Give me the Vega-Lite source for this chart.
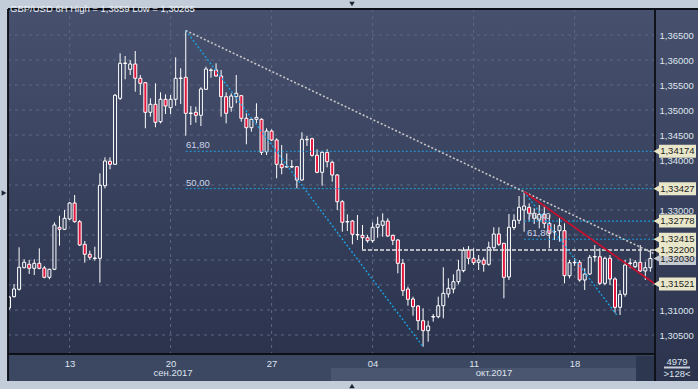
{
"$schema": "https://vega.github.io/schema/vega-lite/v6.json",
"width": 647, "height": 345,
"autosize": {"type": "none"},
"padding": {"left": 8, "top": 9, "right": 43, "bottom": 35},
"background": "#c3cdd9",
"config": {"view": {"stroke": null, "fill": null}, "font": "Liberation Sans",
  "scale": {"continuousPadding": 0},
  "axis": {"grid": false, "domain": false, "ticks": false, "labelPadding": 4, "labelFontSize": 9.5, "labelColor": "#dfe5ee", "labelFont": "Liberation Sans"}},
"title": {"text": "GBP/USD 6H  High = 1,3659 Low = 1,30265", "anchor": "start", "frame": "group", "orient": "top", "offset": -12, "dx": 2, "fontSize": 9.5, "fontWeight": "normal", "color": "#eef2f8", "font": "Liberation Sans"},
"resolve": {"scale": {"color": "independent", "strokeDash": "independent", "strokeWidth": "independent"}},
"datasets": {
"bgs": [
{"i": -0.198, "i2": 127.92, "p": 1.3012, "p2": 1.3702},
{"i": 127.92, "i2": 136.6, "p": 1.2958, "p2": 1.3702}
],
"flats": [
{"k": "axis", "i": -0.198, "i2": 127.92, "p": 1.2958, "p2": 1.3012},
{"k": "band", "i": 63.76, "i2": 124.16, "p": 1.2958, "p2": 1.2984},
{"k": "block", "i": 124.16, "i2": 127.72, "p": 1.2958, "p2": 1.3008}
],
"hg": [{"p":1.305},{"p":1.31},{"p":1.315},{"p":1.32},{"p":1.325},{"p":1.33},{"p":1.335},{"p":1.34},{"p":1.345},{"p":1.35},{"p":1.355},{"p":1.36},{"p":1.365}],
"vg": [{"i":12},{"i":32},{"i":52},{"i":72},{"i":92},{"i":112}],
"candles": [
{"i":0,"o":1.3104,"h":1.3128,"l":1.31,"c":1.3126},
{"i":1,"o":1.31266,"h":1.3152,"l":1.3125,"c":1.3142},
{"i":2,"o":1.31414,"h":1.32254,"l":1.31386,"c":1.31854},
{"i":3,"o":1.31846,"h":1.32014,"l":1.31834,"c":1.31954},
{"i":4,"o":1.31914,"h":1.32,"l":1.3172,"c":1.31834},
{"i":5,"o":1.31834,"h":1.32014,"l":1.317,"c":1.31934},
{"i":6,"o":1.31934,"h":1.32234,"l":1.31814,"c":1.31834},
{"i":7,"o":1.3184,"h":1.3188,"l":1.31634,"c":1.31654},
{"i":8,"o":1.31654,"h":1.31826,"l":1.31614,"c":1.31814},
{"i":9,"o":1.31814,"h":1.32754,"l":1.318,"c":1.327},
{"i":10,"o":1.32654,"h":1.32886,"l":1.32286,"c":1.32614},
{"i":11,"o":1.32614,"h":1.33,"l":1.326,"c":1.32834},
{"i":12,"o":1.3282,"h":1.3316,"l":1.328,"c":1.3314},
{"i":13,"o":1.3314,"h":1.333,"l":1.32746,"c":1.32766},
{"i":14,"o":1.32766,"h":1.328,"l":1.3228,"c":1.323},
{"i":15,"o":1.32314,"h":1.3238,"l":1.31946,"c":1.32114},
{"i":16,"o":1.32114,"h":1.32186,"l":1.32,"c":1.32054},
{"i":17,"o":1.3204,"h":1.32266,"l":1.31986,"c":1.3203},
{"i":18,"o":1.32034,"h":1.33734,"l":1.31546,"c":1.33494},
{"i":19,"o":1.33486,"h":1.34054,"l":1.33434,"c":1.3398},
{"i":20,"o":1.33974,"h":1.34054,"l":1.33814,"c":1.33914},
{"i":21,"o":1.33914,"h":1.3532,"l":1.339,"c":1.35294},
{"i":22,"o":1.35234,"h":1.36134,"l":1.352,"c":1.35934},
{"i":23,"o":1.3594,"h":1.3608,"l":1.35614,"c":1.3593},
{"i":24,"o":1.35814,"h":1.36,"l":1.357,"c":1.3592},
{"i":25,"o":1.3592,"h":1.3618,"l":1.35366,"c":1.35634},
{"i":26,"o":1.35634,"h":1.357,"l":1.353,"c":1.35534},
{"i":27,"o":1.35546,"h":1.3556,"l":1.34634,"c":1.34954},
{"i":28,"o":1.34954,"h":1.35234,"l":1.34866,"c":1.35114},
{"i":29,"o":1.35114,"h":1.35534,"l":1.34654,"c":1.34754},
{"i":30,"o":1.34766,"h":1.35354,"l":1.34734,"c":1.35214},
{"i":31,"o":1.35214,"h":1.35314,"l":1.3492,"c":1.3508},
{"i":32,"o":1.35046,"h":1.353,"l":1.3492,"c":1.35214},
{"i":33,"o":1.35214,"h":1.36054,"l":1.35086,"c":1.35634},
{"i":34,"o":1.3564,"h":1.35834,"l":1.3512,"c":1.3563},
{"i":35,"o":1.35654,"h":1.3659,"l":1.34486,"c":1.34934},
{"i":36,"o":1.3494,"h":1.3508,"l":1.347,"c":1.3493},
{"i":37,"o":1.34954,"h":1.35066,"l":1.34746,"c":1.34894},
{"i":38,"o":1.34894,"h":1.35454,"l":1.3468,"c":1.3542},
{"i":39,"o":1.35414,"h":1.35866,"l":1.354,"c":1.3582},
{"i":40,"o":1.358,"h":1.35834,"l":1.35646,"c":1.3579},
{"i":41,"o":1.358,"h":1.35934,"l":1.35666,"c":1.3568},
{"i":42,"o":1.3568,"h":1.358,"l":1.34866,"c":1.35266},
{"i":43,"o":1.35266,"h":1.35354,"l":1.34734,"c":1.34934},
{"i":44,"o":1.35054,"h":1.35334,"l":1.34966,"c":1.3528},
{"i":45,"o":1.35266,"h":1.357,"l":1.35134,"c":1.35334},
{"i":46,"o":1.35286,"h":1.353,"l":1.34766,"c":1.34834},
{"i":47,"o":1.34834,"h":1.34934,"l":1.34314,"c":1.34646},
{"i":48,"o":1.34646,"h":1.34834,"l":1.34566,"c":1.34814},
{"i":49,"o":1.34814,"h":1.35134,"l":1.34734,"c":1.34854},
{"i":50,"o":1.34814,"h":1.34834,"l":1.341,"c":1.34154},
{"i":51,"o":1.34166,"h":1.34634,"l":1.341,"c":1.3458},
{"i":52,"o":1.3458,"h":1.34614,"l":1.3438,"c":1.344},
{"i":53,"o":1.344,"h":1.34434,"l":1.33634,"c":1.33914},
{"i":54,"o":1.33914,"h":1.343,"l":1.33714,"c":1.33846},
{"i":55,"o":1.3387,"h":1.34134,"l":1.33846,"c":1.3386},
{"i":56,"o":1.3386,"h":1.34,"l":1.3384,"c":1.3387},
{"i":57,"o":1.33866,"h":1.3388,"l":1.33434,"c":1.336},
{"i":58,"o":1.336,"h":1.34554,"l":1.33586,"c":1.34414},
{"i":59,"o":1.34414,"h":1.34486,"l":1.3428,"c":1.34404},
{"i":60,"o":1.34426,"h":1.34446,"l":1.34066,"c":1.34094},
{"i":61,"o":1.34094,"h":1.34214,"l":1.33734,"c":1.33754},
{"i":62,"o":1.33754,"h":1.34186,"l":1.33486,"c":1.34154},
{"i":63,"o":1.34154,"h":1.34214,"l":1.33854,"c":1.33966},
{"i":64,"o":1.33954,"h":1.33986,"l":1.33566,"c":1.337},
{"i":65,"o":1.337,"h":1.3372,"l":1.33,"c":1.33166},
{"i":66,"o":1.33166,"h":1.332,"l":1.32566,"c":1.32754},
{"i":67,"o":1.3277,"h":1.32914,"l":1.3258,"c":1.3276},
{"i":68,"o":1.3278,"h":1.328,"l":1.32314,"c":1.32514},
{"i":69,"o":1.3251,"h":1.329,"l":1.324,"c":1.325},
{"i":70,"o":1.32494,"h":1.327,"l":1.3222,"c":1.32446},
{"i":71,"o":1.32446,"h":1.325,"l":1.32346,"c":1.32386},
{"i":72,"o":1.32386,"h":1.32754,"l":1.32346,"c":1.32654},
{"i":73,"o":1.32654,"h":1.32866,"l":1.32446,"c":1.32714},
{"i":74,"o":1.32694,"h":1.32934,"l":1.32466,"c":1.3278},
{"i":75,"o":1.3278,"h":1.32834,"l":1.32466,"c":1.3248},
{"i":76,"o":1.32494,"h":1.32506,"l":1.323,"c":1.32394},
{"i":77,"o":1.324,"h":1.3242,"l":1.31734,"c":1.31934},
{"i":78,"o":1.31934,"h":1.3202,"l":1.3128,"c":1.31386},
{"i":79,"o":1.3142,"h":1.31466,"l":1.31086,"c":1.31214},
{"i":80,"o":1.3122,"h":1.31266,"l":1.30886,"c":1.31066},
{"i":81,"o":1.3108,"h":1.311,"l":1.306,"c":1.30786},
{"i":82,"o":1.30786,"h":1.31034,"l":1.30265,"c":1.30586},
{"i":83,"o":1.30586,"h":1.30786,"l":1.30366,"c":1.3068},
{"i":84,"o":1.3087,"h":1.3092,"l":1.30766,"c":1.3086},
{"i":85,"o":1.30866,"h":1.31266,"l":1.30834,"c":1.31086},
{"i":86,"o":1.31086,"h":1.31854,"l":1.30834,"c":1.31334},
{"i":87,"o":1.3132,"h":1.31634,"l":1.31246,"c":1.31434},
{"i":88,"o":1.3142,"h":1.31714,"l":1.31334,"c":1.31566},
{"i":89,"o":1.31566,"h":1.32,"l":1.31514,"c":1.318},
{"i":90,"o":1.31786,"h":1.32254,"l":1.31754,"c":1.32194},
{"i":91,"o":1.322,"h":1.3228,"l":1.31914,"c":1.32034},
{"i":92,"o":1.32034,"h":1.32234,"l":1.319,"c":1.31946},
{"i":93,"o":1.31954,"h":1.321,"l":1.318,"c":1.32},
{"i":94,"o":1.32,"h":1.32054,"l":1.31766,"c":1.31914},
{"i":95,"o":1.31914,"h":1.32366,"l":1.31886,"c":1.32254},
{"i":96,"o":1.32246,"h":1.32654,"l":1.3218,"c":1.3252},
{"i":97,"o":1.3252,"h":1.32654,"l":1.3228,"c":1.32314},
{"i":98,"o":1.32334,"h":1.3234,"l":1.31234,"c":1.31654},
{"i":99,"o":1.3166,"h":1.3292,"l":1.316,"c":1.32654},
{"i":100,"o":1.3265,"h":1.32914,"l":1.326,"c":1.32794},
{"i":101,"o":1.32794,"h":1.3328,"l":1.3272,"c":1.33054},
{"i":102,"o":1.33,"h":1.33365,"l":1.32566,"c":1.3308},
{"i":103,"o":1.33054,"h":1.33134,"l":1.32766,"c":1.32934},
{"i":104,"o":1.32834,"h":1.33034,"l":1.3272,"c":1.32934},
{"i":105,"o":1.328,"h":1.331,"l":1.32634,"c":1.32914},
{"i":106,"o":1.32914,"h":1.331,"l":1.32634,"c":1.32734},
{"i":107,"o":1.32734,"h":1.329,"l":1.32234,"c":1.32534},
{"i":108,"o":1.3257,"h":1.32714,"l":1.324,"c":1.3256},
{"i":109,"o":1.32586,"h":1.32834,"l":1.32366,"c":1.32686},
{"i":110,"o":1.32586,"h":1.32734,"l":1.31534,"c":1.31686},
{"i":111,"o":1.31686,"h":1.32,"l":1.31634,"c":1.31946},
{"i":112,"o":1.31954,"h":1.3204,"l":1.3188,"c":1.31944},
{"i":113,"o":1.31954,"h":1.32,"l":1.31566,"c":1.316},
{"i":114,"o":1.316,"h":1.31834,"l":1.314,"c":1.3172},
{"i":115,"o":1.3172,"h":1.321,"l":1.317,"c":1.32054},
{"i":116,"o":1.3207,"h":1.323,"l":1.31966,"c":1.3206},
{"i":117,"o":1.32066,"h":1.32234,"l":1.315,"c":1.31534},
{"i":118,"o":1.31534,"h":1.32066,"l":1.315,"c":1.32034},
{"i":119,"o":1.32034,"h":1.321,"l":1.315,"c":1.3162},
{"i":120,"o":1.3162,"h":1.31654,"l":1.30946,"c":1.31054},
{"i":121,"o":1.31054,"h":1.314,"l":1.309,"c":1.31314},
{"i":122,"o":1.31314,"h":1.32,"l":1.31266,"c":1.319},
{"i":123,"o":1.3194,"h":1.32034,"l":1.31834,"c":1.3193},
{"i":124,"o":1.31866,"h":1.32,"l":1.3184,"c":1.31954},
{"i":125,"o":1.31954,"h":1.323,"l":1.31766,"c":1.3178},
{"i":126,"o":1.3178,"h":1.31966,"l":1.316,"c":1.31846},
{"i":127,"o":1.31846,"h":1.322,"l":1.31766,"c":1.3203}
],
"segs": [
{"i":35,"p":1.34174,"i2":127.92,"p2":1.34174,"k":"fib"},
{"i":35,"p":1.33427,"i2":127.92,"p2":1.33427,"k":"fib"},
{"i":102,"p":1.32778,"i2":127.92,"p2":1.32778,"k":"fib2"},
{"i":102,"p":1.32415,"i2":127.92,"p2":1.32415,"k":"fib2"},
{"i":69.9,"p":1.322,"i2":127.92,"p2":1.322,"k":"lvl"},
{"i":35,"p":1.3659,"i2":82,"p2":1.30265,"k":"diag"},
{"i":102,"p":1.33365,"i2":120.5,"p2":1.30879,"k":"diag"},
{"i":35,"p":1.3659,"i2":127.92,"p2":1.32117,"k":"trend"},
{"i":102,"p":1.33365,"i2":127.92,"p2":1.31521,"k":"red"},
{"i":127.92,"p":1.3702,"i2":127.92,"p2":1.2958,"k":"edge"},
{"i":-0.198,"p":1.3012,"i2":127.92,"p2":1.3012,"k":"edge"},
{"i":-0.198,"p":1.3702,"i2":136.6,"p2":1.3702,"k":"edge"},
{"i":-0.198,"p":1.3702,"i2":-0.198,"p2":1.2958,"k":"edge"},
{"i":129.7,"p":1.2985,"i2":134.85,"p2":1.2985,"k":"sep"}
],
"fibtext": [
{"i":35.05,"p":1.3424,"t":"61,80"},
{"i":35.05,"p":1.3349,"t":"50,00"},
{"i":102.57,"p":1.3282,"t":"76,40"},
{"i":102.57,"p":1.3248,"t":"61,80"}
],
"boxes": [
{"p":1.34174,"t":"1,34174","k":"cream"},
{"p":1.33427,"t":"1,33427","k":"cream"},
{"p":1.32778,"t":"1,32778","k":"cream"},
{"p":1.32415,"t":"1,32415","k":"cream"},
{"p":1.3203,"t":"1,32030","k":"grey"},
{"p":1.322,"t":"1,32200","k":"cream"},
{"p":1.31521,"t":"1,31521","k":"cream"}
],
"extra": [
{"i":32.48,"p":1.2974,"t":"сен.2017"},
{"i":96.04,"p":1.2974,"t":"окт.2017"},
{"i":132.28,"p":1.2996,"t":"4979"},
{"i":132.28,"p":1.2972,"t":">128<"}
],
"tris": [
{"i":67.92,"p":1.3712,"s":"triangle-down"},
{"i":67.92,"p":1.2948,"s":"triangle-up"},
{"i":-0.99,"p":1.3334,"s":"triangle-right"}
]
},
"layer": [
{"data": {"name": "bgs"},
 "mark": {"type": "rect", "color": {"gradient": "linear", "x1": 0, "y1": 0, "x2": 0, "y2": 1, "stops": [{"offset": 0, "color": "#47516e"}, {"offset": 1, "color": "#2b334d"}]}},
 "encoding": {
  "x": {"field": "i", "type": "quantitative", "scale": {"domain": [-0.198, 127.92], "nice": false, "zero": false, "padding": 0},
        "axis": {"values": [12, 32, 52, 72, 92, 112], "labelExpr": "datum.value==12?'13':datum.value==32?'20':datum.value==52?'27':datum.value==72?'04':datum.value==92?'11':'18'", "title": null, "zindex": 2, "grid": false, "domain": false, "ticks": false, "labelPadding": 4}},
  "x2": {"field": "i2"},
  "y": {"field": "p", "type": "quantitative", "scale": {"domain": [1.3012, 1.3702], "nice": false, "zero": false, "padding": 0},
        "axis": {"orient": "right", "values": [1.305, 1.31, 1.33, 1.34, 1.345, 1.35, 1.355, 1.36, 1.365], "labelExpr": "replace(format(datum.value, '.5f'), '.', ',')", "title": null, "labelAlign": "left", "labelBaseline": "middle", "zindex": 2, "grid": false, "domain": false, "ticks": false, "labelPadding": 4}},
  "y2": {"field": "p2"}}},
{"data": {"name": "flats"},
 "mark": {"type": "rect"},
 "encoding": {
  "x": {"field": "i", "type": "quantitative", "scale": {"domain": [-0.198, 127.92], "nice": false, "zero": false, "padding": 0}},
  "x2": {"field": "i2"},
  "y": {"field": "p", "type": "quantitative", "scale": {"domain": [1.3012, 1.3702], "nice": false, "zero": false, "padding": 0}},
  "y2": {"field": "p2"},
  "color": {"field": "k", "type": "nominal", "scale": {"domain": ["axis", "band", "block"], "range": ["#3c4762", "#4a5570", "#2d374f"]}, "legend": null}}},
{"data": {"name": "hg"},
 "mark": {"type": "rule", "color": "#5d6885", "strokeWidth": 1, "strokeDash": [3, 4]},
 "encoding": {
  "y": {"field": "p", "type": "quantitative", "scale": {"domain": [1.3012, 1.3702], "nice": false, "zero": false, "padding": 0}}}},
{"data": {"name": "vg"},
 "mark": {"type": "rule", "color": "#5d6885", "strokeWidth": 1, "strokeDash": [3, 4]},
 "encoding": {
  "x": {"field": "i", "type": "quantitative", "scale": {"domain": [-0.198, 127.92], "nice": false, "zero": false, "padding": 0}}}},
{"data": {"name": "candles"},
 "mark": {"type": "rule", "color": "#ffffff", "strokeWidth": 1, "clip": true},
 "encoding": {
  "x": {"field": "i", "type": "quantitative", "scale": {"domain": [-0.198, 127.92], "nice": false, "zero": false, "padding": 0}},
  "y": {"field": "l", "type": "quantitative", "scale": {"domain": [1.3012, 1.3702], "nice": false, "zero": false, "padding": 0}},
  "y2": {"field": "h"}}},
{"data": {"name": "candles"},
 "mark": {"type": "bar", "width": 3, "stroke": "#ffffff", "strokeWidth": 1, "clip": true},
 "encoding": {
  "x": {"field": "i", "type": "quantitative", "scale": {"domain": [-0.198, 127.92], "nice": false, "zero": false, "padding": 0}},
  "y": {"field": "o", "type": "quantitative", "scale": {"domain": [1.3012, 1.3702], "nice": false, "zero": false, "padding": 0}},
  "y2": {"field": "c"},
  "fill": {"condition": {"test": "datum.c < datum.o", "value": "#e3173d"}, "value": "#39425e"}}},
{"data": {"name": "segs"},
 "mark": {"type": "rule"},
 "encoding": {
  "x": {"field": "i", "type": "quantitative", "scale": {"domain": [-0.198, 127.92], "nice": false, "zero": false, "padding": 0}},
  "x2": {"field": "i2"},
  "y": {"field": "p", "type": "quantitative", "scale": {"domain": [1.3012, 1.3702], "nice": false, "zero": false, "padding": 0}},
  "y2": {"field": "p2"},
  "color": {"field": "k", "type": "nominal", "scale": {"domain": ["fib", "fib2", "lvl", "diag", "trend", "red", "edge", "sep"], "range": ["#1c9fdf", "#1798d8", "#e4e4e4", "#1c9fdf", "#c8c8c8", "#c8102e", "#0d1016", "#c8d0dc"]}, "legend": null},
  "strokeDash": {"field": "k", "type": "nominal", "scale": {"domain": ["fib", "fib2", "lvl", "diag", "trend", "red", "edge", "sep"], "range": [[2, 2], [2, 2], [4, 2], [2, 2], [2, 2], [1, 0], [1, 0], [1, 0]]}, "legend": null},
  "strokeWidth": {"field": "k", "type": "ordinal", "scale": {"domain": ["fib", "fib2", "lvl", "diag", "trend", "red", "edge", "sep"], "range": [1, 2, 1, 1.5, 1.5, 1.5, 1, 1]}, "legend": null}}},
{"data": {"name": "fibtext"},
 "mark": {"type": "text", "align": "left", "baseline": "alphabetic", "fontSize": 9.5, "color": "#c9d5ea"},
 "encoding": {
  "x": {"field": "i", "type": "quantitative", "scale": {"domain": [-0.198, 127.92], "nice": false, "zero": false, "padding": 0}},
  "y": {"field": "p", "type": "quantitative", "scale": {"domain": [1.3012, 1.3702], "nice": false, "zero": false, "padding": 0}},
  "text": {"field": "t"}}},
{"data": {"name": "boxes"},
 "mark": {"type": "bar", "size": 13, "orient": "horizontal"},
 "encoding": {
  "x": {"datum": 128.71, "type": "quantitative", "scale": {"domain": [-0.198, 127.92], "nice": false, "zero": false, "padding": 0}},
  "x2": {"datum": 136.04},
  "y": {"field": "p", "type": "quantitative", "scale": {"domain": [1.3012, 1.3702], "nice": false, "zero": false, "padding": 0}},
  "color": {"field": "k", "type": "nominal", "scale": {"domain": ["cream", "grey"], "range": ["#e9e7ca", "#c5c9d0"]}, "legend": null}}},
{"data": {"name": "boxes"},
 "mark": {"type": "point", "shape": "triangle-left", "filled": true, "size": 60, "opacity": 1},
 "encoding": {
  "x": {"datum": 128.3, "type": "quantitative", "scale": {"domain": [-0.198, 127.92], "nice": false, "zero": false, "padding": 0}},
  "y": {"field": "p", "type": "quantitative", "scale": {"domain": [1.3012, 1.3702], "nice": false, "zero": false, "padding": 0}},
  "color": {"field": "k", "type": "nominal", "scale": {"domain": ["cream", "grey"], "range": ["#e9e7ca", "#c5c9d0"]}, "legend": null}}},
{"data": {"name": "boxes"},
 "mark": {"type": "text", "align": "left", "baseline": "middle", "fontSize": 9.5, "color": "#222222"},
 "encoding": {
  "x": {"datum": 128.95, "type": "quantitative", "scale": {"domain": [-0.198, 127.92], "nice": false, "zero": false, "padding": 0}},
  "y": {"field": "p", "type": "quantitative", "scale": {"domain": [1.3012, 1.3702], "nice": false, "zero": false, "padding": 0}},
  "text": {"field": "t"}}},
{"data": {"name": "extra"},
 "mark": {"type": "text", "align": "center", "baseline": "middle", "fontSize": 9.5, "color": "#dfe5ee"},
 "encoding": {
  "x": {"field": "i", "type": "quantitative", "scale": {"domain": [-0.198, 127.92], "nice": false, "zero": false, "padding": 0}},
  "y": {"field": "p", "type": "quantitative", "scale": {"domain": [1.3012, 1.3702], "nice": false, "zero": false, "padding": 0}},
  "text": {"field": "t"}}},
{"data": {"name": "tris"},
 "mark": {"type": "point", "filled": true, "size": 30, "color": "#1b2434", "opacity": 1},
 "encoding": {
  "x": {"field": "i", "type": "quantitative", "scale": {"domain": [-0.198, 127.92], "nice": false, "zero": false, "padding": 0}},
  "y": {"field": "p", "type": "quantitative", "scale": {"domain": [1.3012, 1.3702], "nice": false, "zero": false, "padding": 0}},
  "shape": {"field": "s", "type": "nominal", "scale": null}}}
]
}
